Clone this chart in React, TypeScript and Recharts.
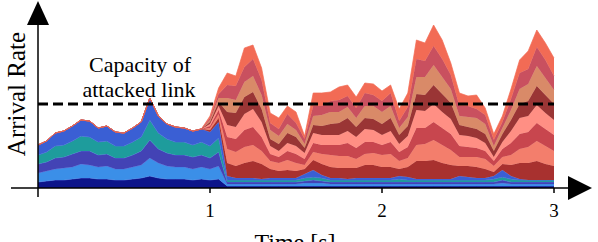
import React from "react";
import { AreaChart, Area, XAxis, YAxis, ReferenceLine } from "recharts";

// time in seconds, one sample every 0.05 s
const time = [
  0, 0.05, 0.1, 0.15, 0.2, 0.25, 0.3, 0.35, 0.4, 0.45, 0.5, 0.55, 0.6, 0.65, 0.7,
  0.75, 0.8, 0.85, 0.9, 0.95, 1, 1.05, 1.1, 1.15, 1.2, 1.25, 1.3, 1.35, 1.4, 1.45,
  1.5, 1.55, 1.6, 1.65, 1.7, 1.75, 1.8, 1.85, 1.9, 1.95, 2, 2.05, 2.1, 2.15, 2.2,
  2.25, 2.3, 2.35, 2.4, 2.45, 2.5, 2.55, 2.6, 2.65, 2.7, 2.75, 2.8, 2.85, 2.9,
  2.95, 3,
];

// benign flows (blue), bottom to top
const benign1 = [
  6, 7, 8, 8, 9, 10, 10, 9, 9, 8, 8, 9, 10, 12, 10, 9, 9, 9, 8, 9, 8, 9,
  2, 2, 2, 2, 2, 2, 2, 2, 2, 2, 2, 2, 2, 2, 2, 2, 2, 2, 2, 2, 2, 2, 2, 2, 2, 2, 2,
  2, 2, 2, 2, 2, 2, 2, 2, 2, 2, 2, 2,
];
const benign2 = [
  9, 10, 11, 12, 12, 14, 13, 12, 13, 11, 11, 12, 13, 18, 15, 13, 12, 12, 11, 12, 11, 13,
  2, 2, 2, 2, 2, 2, 2, 2, 2, 3, 3, 3, 2, 2, 2, 2, 2, 2, 2, 2, 2, 2, 2, 2, 2, 2, 2,
  2, 2, 2, 2, 2, 3, 2, 2, 2, 2, 2, 2,
];
const benign3 = [
  9, 9, 11, 11, 13, 13, 14, 12, 12, 11, 11, 12, 14, 18, 14, 13, 12, 12, 12, 12, 11, 14,
  2, 2, 2, 2, 2, 2, 2, 2, 2, 2, 3, 2, 2, 2, 2, 2, 2, 2, 2, 2, 2, 2, 2, 2, 2, 2, 2,
  2, 2, 2, 2, 2, 3, 2, 2, 2, 2, 2, 2,
];
const benign4 = [
  9, 10, 12, 12, 13, 15, 14, 13, 13, 12, 12, 13, 14, 20, 16, 14, 13, 13, 12, 13, 12, 14,
  2, 2, 2, 2, 2, 2, 2, 2, 2, 3, 3, 3, 2, 2, 2, 2, 2, 2, 2, 2, 3, 2, 2, 2, 2, 2, 2,
  2, 2, 2, 2, 3, 3, 3, 2, 2, 2, 2, 2,
];
const benign5 = [
  10, 11, 13, 14, 15, 16, 16, 14, 15, 14, 13, 14, 15, 22, 17, 15, 15, 14, 14, 13, 14, 16,
  4, 2, 2, 2, 1, 2, 2, 2, 2, 4, 7, 3, 2, 2, 1, 2, 2, 2, 2, 2, 3, 3, 1, 1, 1, 1, 1,
  4, 3, 2, 2, 3, 7, 3, 1, 0, 0, 0, 0,
];

// attack flows (red), bottom to top; zero until 1 s
const z = [0, 0, 0, 0, 0, 0, 0, 0, 0, 0, 0, 0, 0, 0, 0, 0, 0, 0, 0, 0];
const attack1 = [...z,
  2, 4, 13, 12, 15, 17, 15, 9, 7, 8, 7, 5, 10, 11, 11, 10, 11, 10, 13, 13,
  11, 11, 7, 10, 18, 18, 19, 16, 14, 10, 11, 11, 9, 4, 6, 11, 16, 17, 19, 16, 14,
];
const attack2 = [...z,
  2, 4, 14, 14, 16, 16, 13, 8, 8, 10, 8, 4, 8, 10, 12, 12, 12, 9, 11, 12,
  12, 13, 8, 9, 16, 17, 20, 18, 15, 9, 9, 10, 10, 6, 7, 10, 14, 16, 20, 18, 15,
];
const attack3 = [...z,
  2, 4, 12, 13, 17, 18, 14, 7, 6, 9, 9, 6, 9, 9, 10, 11, 13, 11, 12, 11,
  10, 12, 9, 11, 17, 16, 18, 17, 16, 11, 10, 9, 8, 5, 8, 12, 15, 15, 18, 17, 16,
];
const attack4 = [...z,
  2, 4, 12, 12, 16, 18, 15, 8, 6, 8, 8, 6, 10, 10, 10, 10, 12, 11, 13, 12,
  10, 11, 8, 11, 18, 17, 18, 16, 15, 11, 11, 10, 8, 4, 7, 12, 16, 16, 18, 16, 15,
];
const attack5 = [...z,
  2, 4, 13, 14, 17, 17, 13, 7, 7, 10, 9, 5, 8, 9, 11, 12, 13, 10, 11, 11,
  11, 13, 9, 10, 16, 16, 19, 18, 16, 10, 9, 9, 9, 6, 8, 11, 14, 15, 19, 18, 16,
];
const attack6 = [...z,
  2, 4, 14, 13, 15, 16, 14, 9, 8, 9, 7, 4, 9, 11, 12, 11, 11, 9, 12, 13,
  12, 12, 7, 9, 17, 18, 20, 17, 14, 9, 10, 11, 10, 5, 6, 10, 15, 17, 20, 17, 14,
];
const attack7 = [...z,
  2, 4, 13, 14, 15, 17, 15, 7, 7, 10, 7, 5, 10, 9, 11, 12, 11, 10, 13, 11,
  11, 13, 7, 10, 18, 16, 19, 18, 14, 10, 11, 9, 9, 6, 6, 11, 16, 15, 19, 18, 14,
];
const attack8 = [...z,
  2, 6, 12, 10, 19, 14, 12, 10, 11, 8, 11, 3, 13, 13, 9, 13, 11, 11, 10, 11,
  10, 8, 12, 14, 19, 18, 21, 19, 12, 13, 10, 14, 7, 6, 6, 10, 13, 18, 17, 17, 18,
];

const capacity = 84;
const xTicks = [1, 2, 3];

const series = [
  { key: "b1", values: benign1, color: "#0d158a", line: "#4f6fe0" },
  { key: "b2", values: benign2, color: "#3b8fe8", line: "#4f6fe0" },
  { key: "b3", values: benign3, color: "#4343b5", line: "#4f6fe0" },
  { key: "b4", values: benign4, color: "#1e9c9c", line: "#4f6fe0" },
  { key: "b5", values: benign5, color: "#3a5fd4", line: "#4f6fe0" },
  { key: "a1", values: attack1, color: "#a8312f", line: "#a8312f" },
  { key: "a2", values: attack2, color: "#f37e6c", line: "#f37e6c" },
  { key: "a3", values: attack3, color: "#c8464e", line: "#c8464e" },
  { key: "a4", values: attack4, color: "#ff8f84", line: "#ff8f84" },
  { key: "a5", values: attack5, color: "#9a3535", line: "#9a3535" },
  { key: "a6", values: attack6, color: "#d98a68", line: "#d98a68" },
  { key: "a7", values: attack7, color: "#c9505f", line: "#c9505f" },
  { key: "a8", values: attack8, color: "#f26b55", line: "#f26b55" },
];

const data = time.map((t, i) => {
  const row: Record<string, number> = { t };
  series.forEach((s) => (row[s.key] = s.values[i]));
  return row;
});

const font = "'Liberation Serif', serif";

export default function App() {
  return (
    <div style={{ position: "absolute", left: 0, top: 0, width: 598, height: 242, background: "#fff" }}>
      <AreaChart
        width={598}
        height={242}
        data={data}
        margin={{ top: 8, right: 44, bottom: 24, left: 38 }}
      >
        <XAxis
          dataKey="t"
          type="number"
          domain={[0, 3]}
          ticks={xTicks}
          axisLine={false}
          tickLine={{ stroke: "#000", strokeWidth: 1.5 }}
          tickSize={5}
          tickMargin={11}
          tick={{ fill: "#000", fontSize: 19, fontFamily: font }}
          height={30}
        />
        <YAxis hide type="number" domain={[0, 180]} allowDataOverflow />
        {series.map((s) => (
          <Area
            key={s.key}
            dataKey={s.key}
            stackId="1"
            type="linear"
            fill={s.color}
            fillOpacity={1}
            stroke={s.line}
            strokeWidth={0.7}
            dot={false}
            activeDot={false}
            isAnimationActive={false}
          />
        ))}
        <ReferenceLine
          y={capacity}
          stroke="#000"
          strokeWidth={3}
          strokeDasharray="10 5"
        />
      </AreaChart>
      <svg
        width={598}
        height={242}
        style={{ position: "absolute", left: 0, top: 0, pointerEvents: "none" }}
      >
        <line x1={11} y1={188} x2={570} y2={188} stroke="#000" strokeWidth={1.5} />
        <polygon points="568,176 592,188 568,200" fill="#000" />
        <line x1={38} y1={22} x2={38} y2={197} stroke="#000" strokeWidth={1.5} />
        <polygon points="27,25 38,1 49,25" fill="#000" />
        <text
          transform="translate(25,94) rotate(-90)"
          textAnchor="middle"
          fontFamily={font}
          fontSize={25}
        >
          Arrival Rate
        </text>
        <text x={140} y={72} textAnchor="middle" fontFamily={font} fontSize={22}>
          Capacity of
        </text>
        <text x={139} y={97} textAnchor="middle" fontFamily={font} fontSize={22}>
          attacked link
        </text>
        <text x={295} y={250} textAnchor="middle" fontFamily={font} fontSize={24}>
          Time [s]
        </text>
      </svg>
    </div>
  );
}
